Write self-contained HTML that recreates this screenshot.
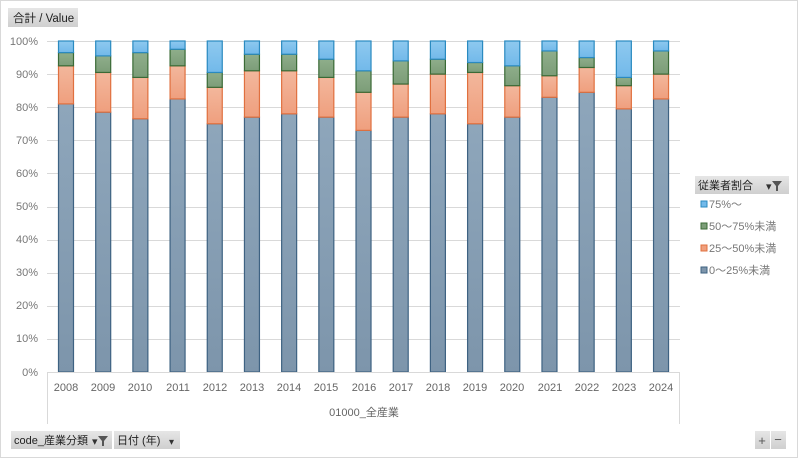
<!DOCTYPE html><html><head><meta charset="utf-8"><style>
body{margin:0;width:798px;height:458px;background:#fff;overflow:hidden}
svg{display:block;font-family:"Liberation Sans","Noto Sans CJK JP",sans-serif}
</style></head><body>
<svg id="s" width="798" height="458" viewBox="0 0 798 458">
<defs>
<linearGradient id="g0" x1="0" x2="0" y1="0" y2="1"><stop offset="0" stop-color="#8ea6bb"/><stop offset="1" stop-color="#7d95ab"/></linearGradient>
<linearGradient id="g1" x1="0" x2="0" y1="0" y2="1"><stop offset="0" stop-color="#f3b79c"/><stop offset="1" stop-color="#ef9f7e"/></linearGradient>
<linearGradient id="g2" x1="0" x2="0" y1="0" y2="1"><stop offset="0" stop-color="#8fae8b"/><stop offset="1" stop-color="#7c9d78"/></linearGradient>
<linearGradient id="g3" x1="0" x2="0" y1="0" y2="1"><stop offset="0" stop-color="#8ec9ef"/><stop offset="1" stop-color="#72b9ea"/></linearGradient>
<linearGradient id="btn" x1="0" x2="0" y1="0" y2="1"><stop offset="0" stop-color="#e6e6e6"/><stop offset="1" stop-color="#cfcfcf"/></linearGradient>
</defs>
<rect x="0.5" y="0.5" width="797" height="457" fill="#fff" stroke="#d9d9d9"/>
<rect x="8" y="8" width="70" height="19" fill="url(#btn)"/>
<text x="13" y="22" font-size="11.5" fill="#222">合計 / Value</text>
<g id="grid" stroke="#d9d9d9" stroke-width="1"></g>
<g font-size="11" fill="#777" text-anchor="end">
<text x="38" y="45">100%</text><text x="38" y="78">90%</text><text x="38" y="111">80%</text><text x="38" y="144">70%</text><text x="38" y="177">60%</text><text x="38" y="210">50%</text><text x="38" y="243">40%</text><text x="38" y="276">30%</text><text x="38" y="309">20%</text><text x="38" y="342">10%</text><text x="38" y="376">0%</text>
</g>
<g id="bars"></g>
<path d="M47.5 372V424M679.5 372V424M47 372.5H680" stroke="#d9d9d9" fill="none"/>
<g font-size="11" fill="#666" text-anchor="middle">
<text x="66" y="391">2008</text><text x="103" y="391">2009</text><text x="140" y="391">2010</text><text x="178" y="391">2011</text><text x="215" y="391">2012</text><text x="252" y="391">2013</text><text x="289" y="391">2014</text><text x="326" y="391">2015</text><text x="364" y="391">2016</text><text x="401" y="391">2017</text><text x="438" y="391">2018</text><text x="475" y="391">2019</text><text x="512" y="391">2020</text><text x="550" y="391">2021</text><text x="587" y="391">2022</text><text x="624" y="391">2023</text><text x="661" y="391">2024</text>
<text x="364" y="416">01000_全産業</text>
</g>
<rect x="695" y="176" width="94" height="18" fill="url(#btn)"/>
<text x="698" y="189" font-size="11" fill="#222">従業者割合</text>
<text x="766" y="190" font-size="11" fill="#333">▾</text>
<path d="M772 181h10l-4 5v5h-2v-5z" fill="#555"/>
<g font-size="11" fill="#777">
<rect x="701" y="201" width="6" height="6" fill="#72b9ea" stroke="#2a8ac0"/><text x="709" y="208">75%～</text>
<rect x="701" y="223" width="6" height="6" fill="#7c9d78" stroke="#3a6a36"/><text x="709" y="230">50～75%未満</text>
<rect x="701" y="245" width="6" height="6" fill="#ef9f7e" stroke="#e0703f"/><text x="709" y="252">25～50%未満</text>
<rect x="701" y="267" width="6" height="6" fill="#7d95ab" stroke="#3e6282"/><text x="709" y="274">0～25%未満</text>
</g>
<rect x="11" y="431" width="101" height="18" fill="url(#btn)"/>
<text x="14" y="444" font-size="11" fill="#222">code_産業分類</text>
<text x="92" y="445" font-size="11" fill="#333">▾</text>
<path d="M98 436h10l-4 5v5h-2v-5z" fill="#555"/>
<rect x="114" y="431" width="66" height="18" fill="url(#btn)"/>
<text x="117" y="444" font-size="11" fill="#222">日付 (年)</text>
<text x="169" y="445" font-size="10" fill="#333">▾</text>
<rect x="755" y="431" width="15" height="18" fill="url(#btn)"/><text x="762" y="445" font-size="13" fill="#555" text-anchor="middle">+</text>
<rect x="771" y="431" width="15" height="18" fill="url(#btn)"/><text x="778" y="444" font-size="13" fill="#555" text-anchor="middle">−</text>
</svg>
<script>
var d=[[81,92.5,96.5],[78.5,90.5,95.5],[76.5,89,96.5],[82.5,92.5,97.5],[75,86,90.5],[77,91,96],[78,91,96],[77,89,94.5],[73,84.5,91],[77,87,94],[78,90,94.5],[75,90.5,93.5],[77,86.5,92.5],[83,89.5,97],[84.5,92,95],[79.5,86.5,89],[82.5,90,97]];
var ns="http://www.w3.org/2000/svg",g=document.getElementById("grid"),b=document.getElementById("bars");
function Y(v){return 372-v*3.31}
for(var i=1;i<=10;i++){var l=document.createElementNS(ns,"line");var y=Math.round(Y(i*10))+0.5;l.setAttribute("x1",47);l.setAttribute("x2",680);l.setAttribute("y1",y);l.setAttribute("y2",y);g.appendChild(l);}
var st=["#3e6282","#e0703f","#3a6a36","#2a8ac0"];
d.forEach(function(r,i){var cx=66+i*37.19;var v=[0,r[0],r[1],r[2],100];
for(var k=0;k<4;k++){var e=document.createElementNS(ns,"rect");var y1=Y(v[k+1]),y0=Y(v[k]);
e.setAttribute("x",cx-7.5);e.setAttribute("width",15);e.setAttribute("y",y1);e.setAttribute("height",y0-y1);
e.setAttribute("fill","url(#g"+k+")");e.setAttribute("stroke",st[k]);e.setAttribute("stroke-width",1.2);b.appendChild(e);}});
</script>
</body></html>
